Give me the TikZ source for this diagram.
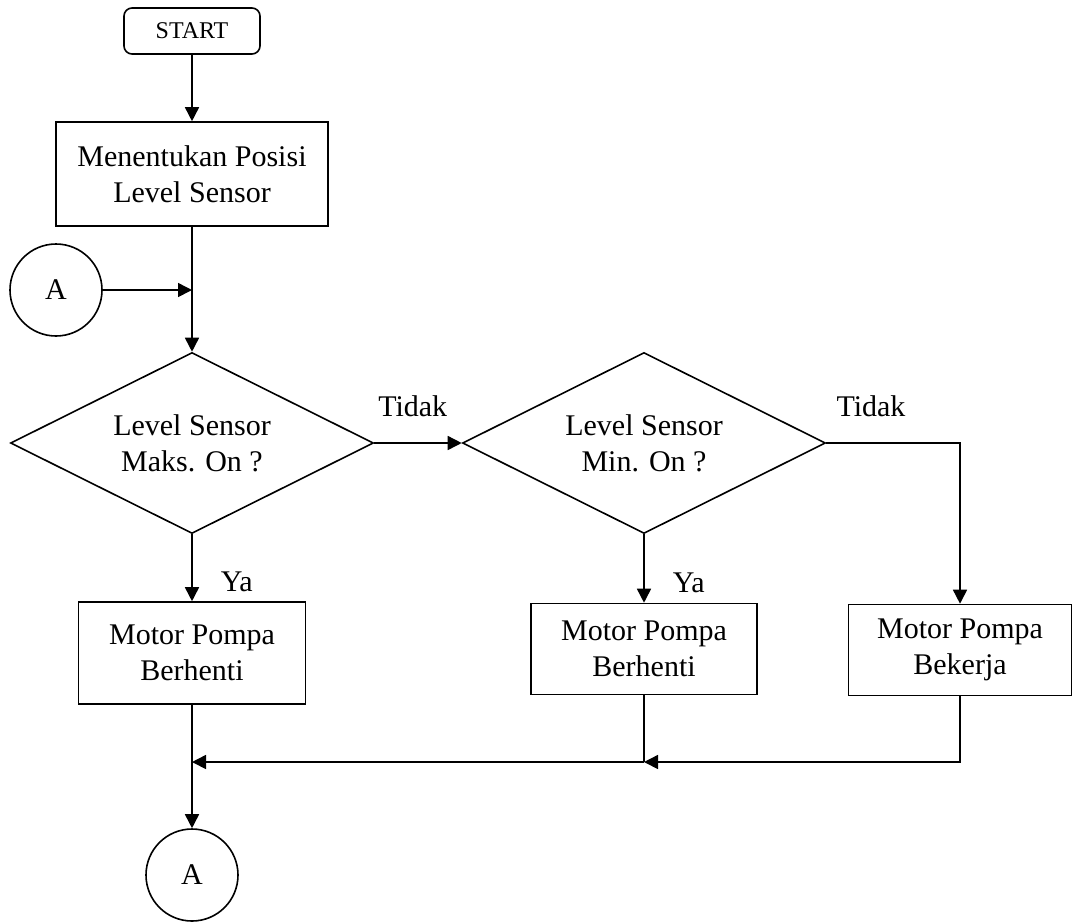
\documentclass[tikz,border=0pt]{standalone}
\usepackage{fontspec}
\setmainfont{Liberation Serif}
\usetikzlibrary{arrows.meta,positioning,shapes.geometric}

\begin{document}
\begin{tikzpicture}[
    x=0.5pt, y=-0.5pt,
    line width=0.8pt,
    font=\fontsize{15}{18}\selectfont,
    term/.style={rectangle, rounded corners=4pt, draw, minimum width=68pt, minimum height=23pt,
                 inner sep=0pt, font=\fontsize{12}{14}\selectfont},
    box/.style={rectangle, draw, align=center, inner sep=0pt},
    decision/.style={diamond, aspect=2, draw, align=center, inner sep=0pt,
                     minimum width=181.5pt, minimum height=90.5pt},
    conn/.style={circle, draw, inner sep=0pt, minimum size=46pt},
    lbl/.style={inner sep=0pt},
    arrow/.style={-{Triangle[length=7pt,width=7pt]}}
  ]
    \useasboundingbox (0,0) rectangle (1074,922);

    \node[term] (start) at (192,31) {START};
    \node[box, minimum width=136pt, minimum height=52pt] (posisi) at (192,174) {Menentukan Posisi\\Level Sensor};
    \node[conn] (ain) at (56,290) {A};
    \node[decision] (maks) at (192,443) {Level Sensor\\Maks. On ?};
    \node[decision] (min) at (644,443) {Level Sensor\\Min. On ?};
    \node[box, minimum width=113.5pt, minimum height=51pt] (stop1) at (192,653) {Motor Pompa\\Berhenti};
    \node[box, minimum width=113pt, minimum height=45.5pt] (stop2) at (644,649) {Motor Pompa\\Berhenti};
    \node[box, minimum width=111.5pt, minimum height=45.5pt] (run) at (960,650) {Motor Pompa\\Bekerja};
    \node[conn] (aout) at (192,875) {A};

    \coordinate (j2) at (stop2.south |- 0,762);
    \coordinate (j1) at (stop1.south |- 0,762);

    \draw[arrow] (start) -- (posisi);
    \draw[arrow] (posisi.south) -- (maks.north);
    \draw[arrow] (ain.east) -- (ain -| posisi.south);
    \draw[arrow] (maks.east) -- node[lbl, pos=.44, above=12.5pt]{Tidak} (min.west);
    \draw[arrow] (maks.south) -- node[lbl, pos=.71, right=14pt]{Ya} (stop1.north);
    \draw[arrow] (min.south) -- node[lbl, pos=.71, right=14pt]{Ya} (stop2.north);
    \draw[arrow] (min.east) -| node[lbl, pos=.167, above=12.5pt]{Tidak} (run.north);
    \draw (stop2.south) -- (j2);
    \draw[arrow] (run.south) |- (j2);
    \draw[arrow] (j2) -- (j1);
    \draw[arrow] (stop1.south) -- (aout.north);
\end{tikzpicture}
\end{document}
